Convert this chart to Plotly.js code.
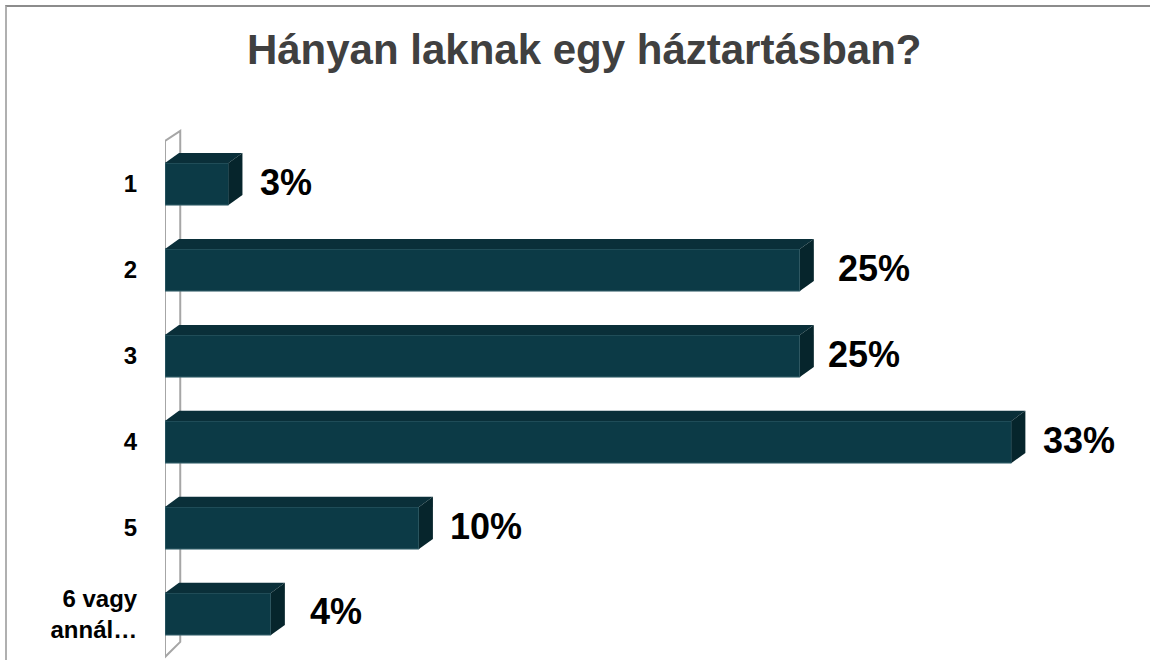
<!DOCTYPE html>
<html>
<head>
<meta charset="utf-8">
<script src="https://cdn.plot.ly/plotly-3.0.1.min.js"></script>
<style>
  html, body { margin: 0; padding: 0; background: #ffffff; }
  #wrap { position: relative; width: 1150px; height: 660px; }
  #chart { position: absolute; left: 0; top: 0; width: 1150px; height: 660px; }
  #frame { position: absolute; left: 5px; top: 5px; width: 1145px; height: 655px;
           border-top: 2px solid #8c8c8c; border-left: 2px solid #b0b0b0; pointer-events: none; box-sizing: border-box; }
</style>
</head>
<body>
<div id="wrap">
  <div id="chart"></div>
  <div id="frame"></div>
</div>
<script>
// ---- data ----
const categories = ["1", "2", "3", "4", "5", "6 vagy<br>annál…"];
const values = [2.5, 25, 25, 33.33, 10, 4.17];
const valueLabels = values.map(v => Math.round(v) + "%");
const chartTitle = "Hányan laknak egy háztartásban?";

// ---- style ----
const FONT = "Liberation Sans, Arial, sans-serif";
const FRONT = "#0c3a46";
const TOP = "#0a2f39";
const SIDE = "#06252c";
const BAR_W = 0.49;     // category units
const DX = 0.55;        // depth in x (percent units)
const DY = 0.117;       // depth in y (category units)
const labelShift = [30, 36, 26, 30, 29, 37];

const idx = categories.map((c, i) => i);

const shapes = [];
// back wall (axis decoration)
const n = categories.length;
shapes.push({
  type: "path", xref: "x", yref: "y", layer: "below",
  path: `M 0 -0.5 L ${DX + 0.05} ${-0.5 - DY} L ${DX + 0.05} ${n - 0.5 - DY * 1.5} L 0 ${n - 0.5} Z`,
  line: { color: "#a6a6a6", width: 2 }, fillcolor: "rgba(255,255,255,0)"
});
// 3D faces of bars
values.forEach((v, i) => {
  const yt = i - BAR_W / 2, yb = i + BAR_W / 2;
  shapes.push({
    type: "path", xref: "x", yref: "y", layer: "above",
    path: `M 0 ${yt} L ${DX} ${yt - DY} L ${v + DX} ${yt - DY} L ${v} ${yt} Z`,
    fillcolor: TOP, line: { width: 0 }
  });
  shapes.push({
    type: "path", xref: "x", yref: "y", layer: "above",
    path: `M ${v} ${yt} L ${v + DX} ${yt - DY} L ${v + DX} ${yb - DY} L ${v} ${yb} Z`,
    fillcolor: SIDE, line: { width: 0 }
  });
});

const annotations = values.map((v, i) => ({
  x: v, y: i, xref: "x", yref: "y",
  text: valueLabels[i], showarrow: false,
  xanchor: "left", yanchor: "middle", xshift: labelShift[i], yshift: 2,
  font: { family: FONT, size: 36, color: "#000000", weight: "bold" }
}));

const trace = {
  type: "bar", orientation: "h",
  x: values, y: idx, width: BAR_W,
  marker: { color: FRONT, line: { color: "#3d6771", width: 1 } },
  hoverinfo: "skip"
};

const layout = {
  width: 1150, height: 660,
  margin: { l: 165, r: 20, t: 100, b: 0 },
  paper_bgcolor: "rgba(0,0,0,0)", plot_bgcolor: "rgba(0,0,0,0)",
  showlegend: false,
  title: {
    text: "<b>" + chartTitle + "</b>",
    font: { family: FONT, size: 42, color: "#404040" },
    xref: "container", yref: "container",
    x: 0.508, xanchor: "center", y: 0.925, yanchor: "middle"
  },
  xaxis: {
    range: [0, 38], showgrid: false, zeroline: false, showline: false,
    showticklabels: false, ticks: ""
  },
  yaxis: {
    range: [5.535, -0.977], tickmode: "array", tickvals: idx, ticktext: categories,
    showgrid: false, zeroline: false, showline: false,
    ticks: "outside", ticklen: 22, tickcolor: "rgba(0,0,0,0)",
    tickfont: { family: FONT, size: 24, color: "#000000", weight: "bold" }
  },
  shapes: shapes,
  annotations: annotations
};

Plotly.newPlot("chart", [trace], layout, { displayModeBar: false, staticPlot: true });
</script>
</body>
</html>
